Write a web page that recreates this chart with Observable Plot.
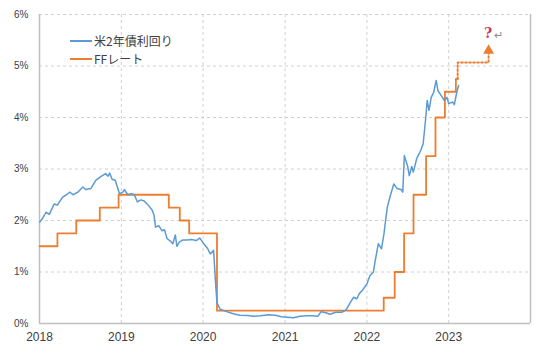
<!DOCTYPE html>
<html><head><meta charset="utf-8">
<script src="https://cdn.jsdelivr.net/npm/d3@7"></script>
<script src="https://cdn.jsdelivr.net/npm/@observablehq/plot@0.6"></script>
<style>
body{margin:0;background:#fff;}
#wrap{position:relative;width:540px;height:353px;font-family:"Liberation Sans",Arial,sans-serif;}
.lg{position:absolute;left:70px;height:16px;line-height:16px;display:flex;align-items:center;font-family:"Noto Sans CJK JP","Liberation Sans",sans-serif;font-size:12px;color:#404040;white-space:nowrap;}
.lg .sw{display:inline-block;width:22px;height:1.6px;margin-right:2px;}
</style></head><body><div id="wrap"></div>
<script>
// US 2-year Treasury yield (%)
const yieldDates = ["2018-01-02","2018-01-16","2018-01-30","2018-02-14","2018-03-07","2018-03-22","2018-04-13","2018-05-01","2018-05-16","2018-05-31","2018-06-21","2018-07-13","2018-07-27","2018-08-18","2018-09-09","2018-10-01","2018-10-23","2018-11-03","2018-11-10","2018-11-21","2018-12-05","2018-12-24",
"2019-01-08","2019-01-15","2019-01-30","2019-02-14","2019-02-28","2019-03-14","2019-03-29","2019-04-13","2019-05-05","2019-05-19","2019-05-27","2019-06-03","2019-06-17","2019-07-02","2019-07-13","2019-07-24","2019-08-08","2019-08-19","2019-08-30","2019-09-06","2019-09-17","2019-10-01","2019-10-23","2019-11-10","2019-12-02","2019-12-17",
"2020-01-04","2020-01-22","2020-02-02","2020-02-17","2020-02-24","2020-03-03","2020-03-17","2020-04-08","2020-05-15","2020-06-13","2020-07-20","2020-08-11","2020-09-13","2020-10-19","2020-11-17","2020-12-16",
"2021-01-12","2021-02-07","2021-03-08","2021-04-10","2021-05-02","2021-05-27","2021-06-11","2021-07-02","2021-07-20","2021-08-15","2021-09-13","2021-10-01","2021-10-19","2021-11-03","2021-11-17","2021-11-28","2021-12-13",
"2022-01-01","2022-01-15","2022-01-30","2022-02-07","2022-02-21","2022-03-07","2022-03-18","2022-04-02","2022-04-16","2022-05-01","2022-05-16","2022-06-03","2022-06-10","2022-06-17","2022-07-02","2022-07-09","2022-07-20","2022-07-27","2022-08-11","2022-08-29","2022-09-09","2022-09-20","2022-09-27","2022-10-05","2022-10-15","2022-10-26","2022-11-06","2022-11-14","2022-11-28","2022-12-13","2022-12-24",
"2023-01-01","2023-01-19","2023-01-26","2023-02-06","2023-02-14"];
const yieldValues = [1.97,2.05,2.16,2.12,2.32,2.30,2.45,2.50,2.55,2.50,2.55,2.65,2.60,2.62,2.78,2.85,2.91,2.86,2.92,2.80,2.78,2.52,
2.55,2.60,2.50,2.52,2.50,2.36,2.40,2.38,2.28,2.20,2.10,1.87,1.90,1.80,1.82,1.65,1.60,1.55,1.72,1.50,1.58,1.62,1.62,1.63,1.61,1.66,
1.55,1.45,1.35,1.42,0.90,0.40,0.28,0.24,0.19,0.16,0.155,0.14,0.15,0.17,0.16,0.13,
0.12,0.11,0.14,0.15,0.15,0.14,0.23,0.21,0.18,0.22,0.22,0.27,0.41,0.51,0.48,0.58,0.65,
0.77,0.93,1.00,1.22,1.55,1.45,1.74,2.26,2.49,2.71,2.62,2.60,2.55,3.26,3.05,2.87,3.05,2.94,3.20,3.36,3.49,3.97,4.33,4.14,4.39,4.49,4.72,4.52,4.43,4.33,4.39,
4.27,4.30,4.25,4.49,4.62];

// FF rate (upper bound, %)
const ffDates = ["2018-01-01","2018-03-22","2018-06-14","2018-09-27","2018-12-20","2019-08-01","2019-09-19","2019-10-31","2020-03-03","2022-03-17","2022-05-05","2022-06-16","2022-07-28","2022-09-22","2022-11-03","2022-12-15","2023-02-02","2023-02-10"];
const ffValues = [1.5,1.75,2.0,2.25,2.5,2.25,2.0,1.75,0.25,0.5,1.0,1.75,2.5,3.25,4.0,4.5,4.75,4.75];

// Projection (dotted) and question mark
const projDates = ["2023-02-10","2023-02-10","2023-06-28","2023-06-28"];
const projValues = [4.75, 5.07, 5.07, 5.25];
const arrowTip = {date: "2023-06-28", value: 5.3};
const qMark = {date: "2023-06-26", value: 5.63, text: "?"};
const retMark = {date: "2023-08-12", value: 5.6, text: "↵"};

const yTicks = [0,1,2,3,4,5,6];
const xTickYears = ["2018","2019","2020","2021","2022","2023"];
const seriesNames = ["米2年債利回り","FFレート"];
const colors = ["#5b9bd5","#ed7d31"];

const D = s => new Date(s);
const yieldData = yieldDates.map((d,i)=>({date:D(d), value:yieldValues[i]}));
const ffData = ffDates.map((d,i)=>({date:D(d), value:ffValues[i]}));
const projData = projDates.map((d,i)=>({date:D(d), value:projValues[i]}));
const xTicks = xTickYears.map(y=>D(y+"-01-01"));
const gridXTicks = xTicks.slice(1);
const xStart = D("2018-01-01"), xEnd = D("2024-01-01");

const axisColor = "#bfbfbf";
const plot = Plot.plot({
  width: 540, height: 353,
  marginLeft: 39, marginRight: 10, marginTop: 14, marginBottom: 30,
  style: {fontFamily: '"Liberation Sans", Arial, sans-serif', color: "#404040", background: "#fff"},
  x: {type: "utc", domain: [xStart, xEnd]},
  y: {domain: [0, 6]},
  marks: [
    Plot.gridY(yTicks.slice(1), {stroke: "#d0d0d0", strokeOpacity: 1, strokeDasharray: "3,3", strokeWidth: 1}),
    Plot.gridX(gridXTicks, {stroke: "#d0d0d0", strokeOpacity: 1, strokeDasharray: "3,3", strokeWidth: 1}),
    Plot.ruleX([xStart], {stroke: axisColor, strokeWidth: 1.5}),
    Plot.ruleX([xEnd], {stroke: axisColor, strokeWidth: 1.5}),
    Plot.ruleY([0], {stroke: axisColor, strokeWidth: 1.5}),
    Plot.axisY(yTicks, {tickSize: 0, tickPadding: 11, fontSize: 10, tickFormat: d => d + "%", label: null}),
    Plot.axisX(xTicks, {tickSize: 0, tickPadding: 9, fontSize: 12, tickFormat: d3.utcFormat("%Y"), label: null}),
    Plot.line(projData, {x: "date", y: "value", stroke: colors[1], strokeWidth: 2, strokeDasharray: "1.6,2.4"}),
    Plot.dot([arrowTip], {x: d => D(d.date), y: "value", symbol: "triangle", r: 4, fill: colors[1], stroke: "none"}),
    Plot.text([qMark], {x: d => D(d.date), y: "value", text: "text", fill: "#c93a55", fontSize: 14, fontWeight: "bold", fontFamily: '"DejaVu Serif", serif'}),
    Plot.text([retMark], {x: d => D(d.date), y: "value", text: "text", fill: "#8a8a8a", fontSize: 11}),
    Plot.line(ffData, {x: "date", y: "value", stroke: colors[1], strokeWidth: 1.8, curve: "step-after"}),
    Plot.line(yieldData, {x: "date", y: "value", stroke: colors[0], strokeWidth: 1.5})
  ]
});
const wrap = document.getElementById("wrap");
wrap.appendChild(plot);
const legendTops = [33, 51];
seriesNames.forEach((name, i) => {
  const el = document.createElement("div");
  el.className = "lg";
  el.style.top = legendTops[i] + "px";
  el.innerHTML = `<span class="sw" style="background:${colors[i]}"></span><span>${name}</span>`;
  wrap.appendChild(el);
});
</script>
</body></html>
